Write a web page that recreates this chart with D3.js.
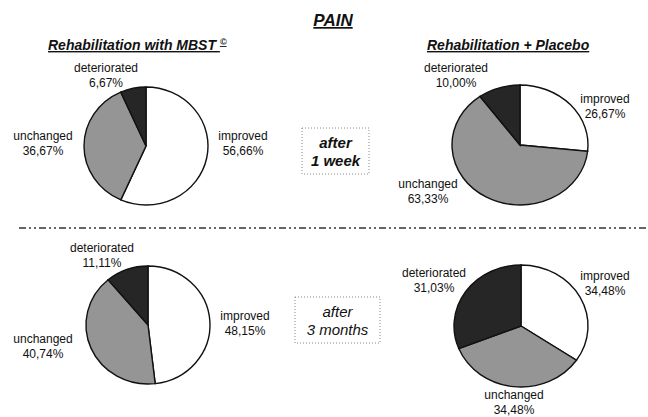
<!DOCTYPE html>
<html>
<head>
<meta charset="utf-8">
<script src="https://cdn.jsdelivr.net/npm/d3@7"></script>
<style>
  body { margin: 0; background: #fff; }
  text { font-family: "Liberation Sans", Arial, sans-serif; fill: #111; }
</style>
</head>
<body>
<svg width="648" height="417"></svg>
<script>
'use strict';

// categorias y valores (%) de cada tarta
var categories = ["improved", "unchanged", "deteriorated"];
var mbstWeek = [56.66, 36.67, 6.67];
var placeboWeek = [26.67, 63.33, 10.00];
var mbstMonths = [48.15, 40.74, 11.11];
var placeboMonths = [34.48, 34.48, 31.03];

var title = "PAIN";
var groupTitles = ["Rehabilitation with MBST", "Rehabilitation + Placebo"];
var periodLabels = [["after", "1 week"], ["after", "3 months"]];

var svg = d3.select("svg");

var color = d3.scaleOrdinal()
  .domain(categories)
  .range(["#ffffff", "#959595", "#262626"]);

var fmt = function (v) { return d3.format(".2f")(v).replace(".", ",") + "%"; };

// titulo
svg.append("text")
  .attr("x", 333).attr("y", 26)
  .attr("text-anchor", "middle")
  .style("font-size", "17px").style("font-weight", "bold").style("font-style", "italic")
  .style("text-decoration", "underline")
  .text(title);

var t1 = svg.append("text")
  .attr("x", 48).attr("y", 50)
  .style("font-size", "14px").style("font-style", "italic").style("font-weight", "bold")
  .style("text-decoration", "underline");
t1.append("tspan").text(groupTitles[0] + " ");
t1.append("tspan").attr("dy", -5).style("font-size", "9px").text("\u00A9");

svg.append("text")
  .attr("x", 427).attr("y", 50)
  .style("font-size", "14px").style("font-style", "italic").style("font-weight", "bold")
  .style("text-decoration", "underline")
  .text(groupTitles[1]);

// linea separadora
svg.append("line")
  .attr("x1", 19).attr("x2", 648).attr("y1", 228).attr("y2", 228)
  .attr("stroke", "#333").attr("stroke-width", 1.5)
  .attr("stroke-dasharray", "7,3,2,3,2,3");

var pie = d3.pie().sort(null).value(function (d) { return d; });
var R = 60;
var arc = d3.arc().innerRadius(0).outerRadius(R);

var pies = [
  { values: mbstWeek, cx: 146, cy: 146, rx: 62, ry: 59,
    labels: [[243, 140], [43, 140], [106, 72]] },
  { values: placeboWeek, cx: 520, cy: 145, rx: 68, ry: 60,
    labels: [[605, 103], [428, 188], [456, 72]] },
  { values: mbstMonths, cx: 148, cy: 325, rx: 62, ry: 59,
    labels: [[245, 320], [43, 343], [102, 252]] },
  { values: placeboMonths, cx: 521, cy: 326, rx: 67, ry: 61,
    labels: [[605, 280], [514, 399], [434, 277]] }
];

pies.forEach(function (p) {
  var g = svg.append("g")
    .attr("transform", "translate(" + p.cx + "," + p.cy + ") scale(" + (p.rx / R) + "," + (p.ry / R) + ")");

  g.selectAll("path")
    .data(pie(p.values))
    .enter().append("path")
    .attr("d", arc)
    .attr("fill", function (d, i) { return color(categories[i]); })
    .attr("stroke", "#111")
    .attr("stroke-width", 1.4)
    .attr("vector-effect", "non-scaling-stroke");

  var lab = svg.append("g").selectAll("text")
    .data(p.values)
    .enter().append("text")
    .attr("text-anchor", "middle")
    .attr("x", function (d, i) { return p.labels[i][0]; })
    .attr("y", function (d, i) { return p.labels[i][1]; })
    .style("font-size", "12px");
  lab.append("tspan").text(function (d, i) { return categories[i]; });
  lab.append("tspan")
    .attr("x", function (d, i) { return p.labels[i][0]; })
    .attr("dy", 14.5)
    .text(function (d) { return fmt(d); });
});

// cajas de periodo
var boxes = [
  { x: 302, y: 128, w: 67, h: 46, weight: "bold" },
  { x: 295, y: 297, w: 85, h: 46, weight: "normal" }
];
boxes.forEach(function (b, i) {
  svg.append("rect")
    .attr("x", b.x).attr("y", b.y).attr("width", b.w).attr("height", b.h)
    .attr("fill", "none").attr("stroke", "#888").attr("stroke-width", 1)
    .attr("stroke-dasharray", "1,2");
  svg.append("text")
    .attr("x", b.x + b.w / 2).attr("y", b.y + 20)
    .attr("text-anchor", "middle")
    .style("font-size", "15px").style("font-weight", b.weight).style("font-style", "italic")
    .text(periodLabels[i][0]);
  svg.append("text")
    .attr("x", b.x + b.w / 2).attr("y", b.y + 38)
    .attr("text-anchor", "middle")
    .style("font-size", "15px").style("font-weight", b.weight).style("font-style", "italic")
    .text(periodLabels[i][1]);
});
</script>
</body>
</html>
